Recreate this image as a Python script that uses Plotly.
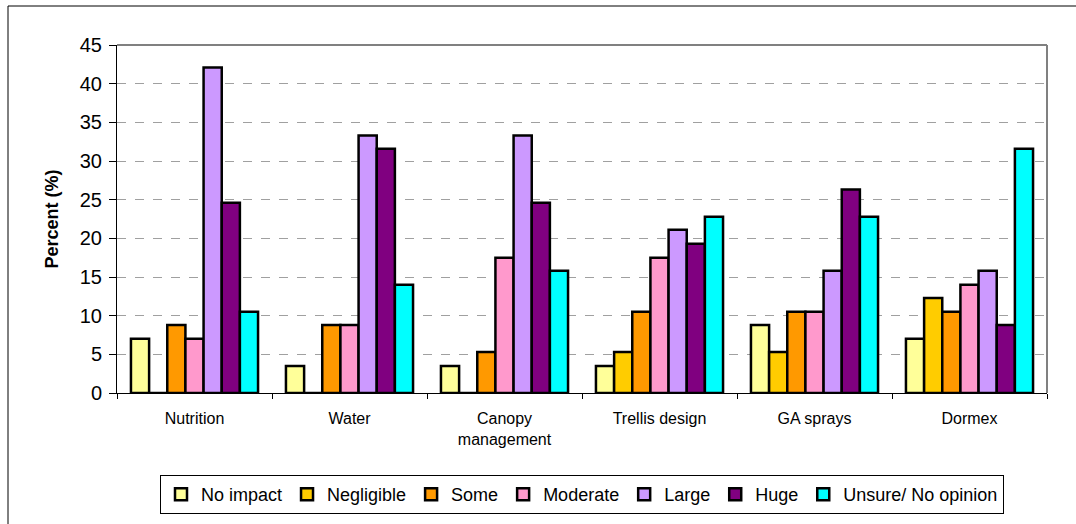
import plotly.graph_objects as go

# Survey responses: perceived impact of each practice (percent of respondents)
practices = ["Nutrition", "Water", "Canopy<br>management", "Trellis design", "GA sprays", "Dormex"]
impact_levels = ["No impact", "Negligible", "Some", "Moderate", "Large", "Huge", "Unsure/ No opinion"]

no_impact  = [7.0, 3.5, 3.5, 3.5, 8.8, 7.0]
negligible = [0.0, 0.0, 0.0, 5.3, 5.3, 12.3]
some       = [8.8, 8.8, 5.3, 10.5, 10.5, 10.5]
moderate   = [7.0, 8.8, 17.5, 17.5, 10.5, 14.0]
large      = [42.1, 33.3, 33.3, 21.1, 15.8, 15.8]
huge       = [24.6, 31.6, 24.6, 19.3, 26.3, 8.8]
unsure     = [10.5, 14.0, 15.8, 22.8, 22.8, 31.6]

series = [no_impact, negligible, some, moderate, large, huge, unsure]
colors = ["#FFFF99", "#FFCC00", "#FF9900", "#FF99CC", "#CC99FF", "#800080", "#00FFFF"]

FONT = "Liberation Sans, Arial, sans-serif"

fig = go.Figure()
for name, vals, col in zip(impact_levels, series, colors):
    fig.add_trace(go.Bar(
        x=practices, y=vals, name=name,
        marker=dict(color=col, line=dict(color="black", width=2.5)),
    ))

# plot-area geometry in pixels
W, H = 1076, 524
L, R, T, B = 117, 1047, 45, 393
pw, ph = R - L, B - T

def px_x(x):
    return (x - L) / pw

def px_y(y):
    return (B - y) / ph

fig.update_layout(
    width=W, height=H,
    margin=dict(l=L, r=W - R, t=T, b=H - B, pad=0, autoexpand=False),
    paper_bgcolor="white", plot_bgcolor="white",
    barmode="group", bargap=0.18, bargroupgap=0,
    font=dict(family=FONT, color="black"),
    showlegend=True,
    legend=dict(
        orientation="h", x=0.5, xanchor="center",
        yref="container", y=(H - 475) / H, yanchor="top",
        font=dict(family=FONT, size=18, color="black"),
        bordercolor="black", borderwidth=1, bgcolor="white",
        itemwidth=30, tracegroupgap=0,
    ),
    xaxis=dict(
        showline=True, linecolor="black", linewidth=1,
        ticks="outside", ticklen=5, tickcolor="black", tickson="boundaries",
        tickfont=dict(family=FONT, size=16, color="black"),
        ticklabelstandoff=11, automargin=False,
        showgrid=False, fixedrange=True,
    ),
    yaxis=dict(
        range=[0, 45], dtick=5, tick0=0,
        showline=True, linecolor="black", linewidth=1,
        ticks="outside", ticklen=7, tickcolor="black",
        tickfont=dict(family=FONT, size=20, color="black"),
        ticklabelstandoff=3, automargin=False,
        showgrid=True, gridcolor="#A0A0A0", griddash="dash", gridwidth=1,
        zeroline=False,
        title=dict(text="<b>Percent (%)</b>", font=dict(family=FONT, size=18, color="black"), standoff=16),
    ),
    shapes=[
        # plot area frame (top and right edges)
        dict(type="line", xref="paper", yref="paper", x0=0, x1=1, y0=1, y1=1,
             line=dict(color="#808080", width=2)),
        dict(type="line", xref="paper", yref="paper", x0=1, x1=1, y0=0, y1=1,
             line=dict(color="#808080", width=2)),
        # chart frame
        dict(type="rect", xref="paper", yref="paper",
             x0=px_x(8), x1=px_x(1090), y0=px_y(540), y1=px_y(6),
             line=dict(color="black", width=1), fillcolor="rgba(0,0,0,0)"),
    ],
)

fig.write_html("out.html")
